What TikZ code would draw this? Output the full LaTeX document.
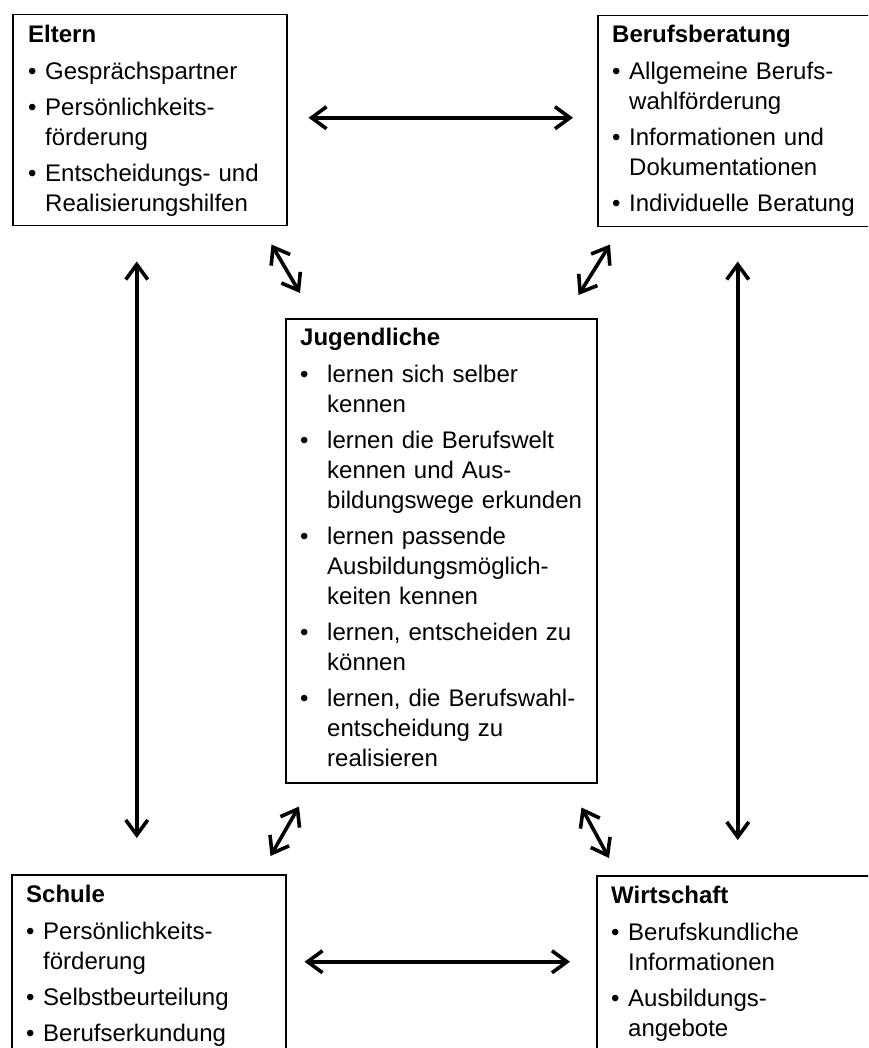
\documentclass[tikz,border=0pt]{standalone}
\usepackage{fontspec}
\setmainfont{Liberation Sans}
\usetikzlibrary{arrows.meta,calc}
\tikzset{
  frame/.style={draw, line width=1.5pt, inner sep=0pt, anchor=north west},
  txt/.style={anchor=north west, inner sep=0pt, text width=420pt, align=left,
    font=\fontsize{24}{30}\selectfont},
  arr/.style={line width=3.6pt,
    {Straight Barb[length=15pt,width=22pt]}-{Straight Barb[length=15pt,width=22pt]}}
}
\newcommand\hd[1]{\strut\textbf{#1}\par\vspace{7pt}}
\newcommand\itm[2][17pt]{\par\hangindent=#1\hangafter=1\noindent\makebox[#1][l]{\textbullet}#2\par\vspace{6pt}}
\begin{document}
\begin{tikzpicture}[x=1pt,y=-1pt]
\path[use as bounding box] (0,0) rectangle (868,1048);
\fill[white] (0,0) rectangle (868,1048);
\clip (0,0) rectangle (868,1048);

% frames
\node[frame, minimum width=274pt, minimum height=211pt] (eltern) at (12,14) {};
\node[frame, minimum width=290pt, minimum height=211pt] (beruf) at (597,15) {};
\node[frame, minimum width=311pt, minimum height=464pt] (jug) at (285,318) {};
\node[frame, minimum width=274pt, minimum height=180pt] (schule) at (11,874) {};
\node[frame, minimum width=290pt, minimum height=180pt] (wirt) at (596,875) {};

% texts
\node[txt] (elternT) at (28,21) {\hd{Eltern}%
  \itm{Gesprächspartner}%
  \itm{Persönlichkeits-\newline förderung}%
  \itm{Entscheidungs- und\newline Realisierungshilfen}};
\node[txt] (berufT) at (612,21) {\hd{Berufsberatung}%
  \itm{Allgemeine Berufs-\newline wahlförderung}%
  \itm{Informationen und\newline Dokumentationen}%
  \itm{Individuelle Beratung}};
\node[txt] (jugT) at (300,324) {\hd{Jugendliche}%
  \itm[27pt]{lernen sich selber\newline kennen}%
  \itm[27pt]{lernen die Berufswelt\newline kennen und Aus-\newline bildungswege erkunden}%
  \itm[27pt]{lernen passende\newline Ausbildungsmöglich-\newline keiten kennen}%
  \itm[27pt]{lernen, entscheiden zu\newline können}%
  \itm[27pt]{lernen, die Berufswahl-\newline entscheidung zu\newline realisieren}};
\node[txt] (schuleT) at (26,881) {\hd{Schule}%
  \itm{Persönlichkeits-\newline förderung}%
  \itm{Selbstbeurteilung}%
  \itm{Berufserkundung}};
\node[txt] (wirtT) at (611,882) {\hd{Wirtschaft}%
  \itm{Berufskundliche\newline Informationen}%
  \itm{Ausbildungs-\newline angebote}};

% connectors
\draw[arr] ($(eltern.east)+(21,-2.5)$) -- ($(beruf.west)+(-24,-3.5)$);
\draw[arr] ($(schule.east)+(18,-3)$) -- ($(wirt.west)+(-26,-4)$);
\draw[arr] ($(eltern.south)+(-13,35)$) -- ($(schule.north)+(-12,-36)$);
\draw[arr] ($(beruf.south)+(-5,34)$) -- ($(wirt.north)+(-4,-35)$);
\draw[arr] ($(eltern.south east)+(-16,18)$) -- ($(jug.north west)+(15,-25)$);
\draw[arr] ($(beruf.south west)+(13,17)$) -- ($(jug.north east)+(-19,-23)$);
\draw[arr] ($(jug.south west)+(14,23)$) -- ($(schule.north east)+(-16,-18)$);
\draw[arr] ($(jug.south east)+(-16,24)$) -- ($(wirt.north west)+(13,-17)$);
\end{tikzpicture}
\end{document}
